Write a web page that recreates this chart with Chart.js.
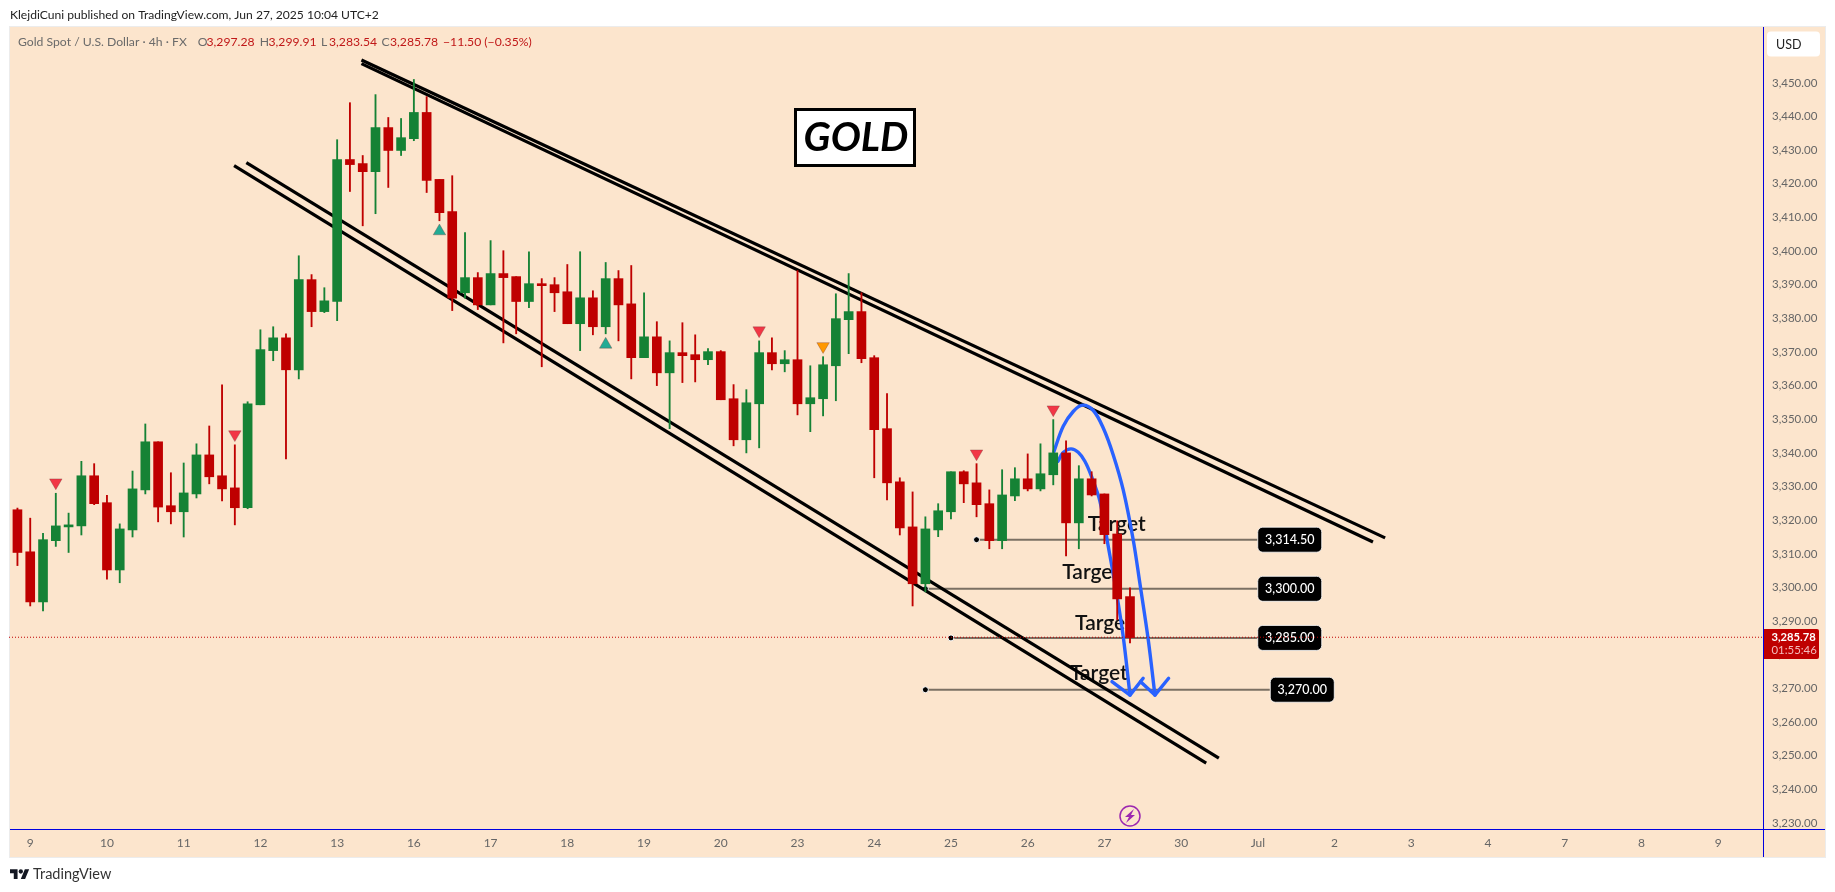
<!DOCTYPE html>
<html><head><meta charset="utf-8">
<style>html,body{margin:0;padding:0;background:#fff}canvas{display:block}</style>
<script src="https://cdn.jsdelivr.net/npm/chart.js@4"></script>
</head><body><canvas id="c" width="1835" height="892" style="width:1835px;height:892px"></canvas>
<script>
// ---------- data ----------
const openP=[3323.1,3310.6,3295.7,3313.9,3318,3318.3,3333.2,3325.2,3305.2,3317.1,
3329,3343.3,3324.3,3322.5,3327.8,3339.4,3333.2,3329.6,3323.7,3354.3,
3370.4,3374.2,3364.7,3391.5,3382,3385,3427.2,3426,3423.6,3436.7,
3429.9,3433.4,3441.2,3421.3,3411.7,3387.6,3392.1,3384,3393.3,3392.4,
3385,3390.3,3390,3387.9,3378.4,3386.1,3377.5,3391.8,3384.3,3368.3,
3374.5,3363.8,3369.8,3369.2,3367.7,3370.1,3356.1,3343.9,3354.6,3369.8,
3366.5,3367.7,3354.6,3356.1,3365.9,3379.6,3382,3368.3,3347.2,3331.4,
3318,3301.1,3317.1,3322.5,3334.4,3331.1,3324.9,3313.9,3327.2,3332.3,
3329.3,3333.5,3340,3319.2,3332.3,3327.8,3315.9,3297.28];
const highP=[3323.6,3320.6,3316.1,3328,3322.1,3337.5,3336.8,3327.4,3318.9,3334.6,
3348.6,3343.3,3334.1,3337,3342.7,3348,3360.2,3342.4,3355.2,3376.6,
3377.5,3375.4,3398.6,3393,3389.1,3433.1,3444.1,3428.4,3446.5,3439.7,
3439.4,3451,3445.9,3421.3,3422.4,3405.5,3393.6,3403.1,3400.1,3392.4,
3399.8,3391.8,3392.1,3396,3399.8,3388.2,3396.6,3394.2,3395.7,3387.6,
3379,3373.3,3378.7,3375.1,3371,3370.4,3360.3,3358.8,3373.3,3374.2,
3370.4,3394.2,3365.9,3368.6,3387.3,3393.3,3387.6,3368.9,3357.6,3332.6,
3328.4,3321,3324.9,3334.4,3334.7,3336.8,3329,3335,3335.6,3339.7,
3342.7,3349.9,3343.6,3336.2,3334.4,3327.8,3319.8,3299.91];
const lowP=[3306.5,3294.5,3293,3312.2,3310.4,3315.6,3324.6,3302.5,3301.4,3315,
3327.8,3319.5,3318.9,3315,3326.6,3330.8,3325.7,3318.6,3323.4,3354.3,
3367.4,3338.2,3362,3377.5,3381.7,3379.3,3417.7,3407.5,3411.1,3418.9,
3428.4,3432.8,3417.4,3409,3382.3,3386,3382.6,3384,3372.7,3375.4,
3383.2,3365.6,3382,3378.4,3370.4,3375.1,3375.4,3373.3,3362,3368.3,
3360,3347.2,3360.9,3361.1,3366.2,3355.8,3342.1,3340,3341.5,3364.7,
3364.1,3351.3,3346.3,3351,3355.5,3369.5,3366.8,3332.6,3326,3315.6,
3294.5,3298.7,3315.1,3320.4,3325.2,3321,3311.5,3311.5,3325.8,3328.7,
3328.7,3330.5,3309.4,3311.5,3327.2,3313,3290.4,3283.54];
const closeP=[3310.4,3295.7,3314.2,3318.3,3318.6,3333.2,3324.9,3305.2,3317.4,3329.3,
3343.3,3323.9,3322.5,3328.1,3339.4,3332.9,3329.3,3323.7,3354.6,3370.7,
3374.2,3364.7,3391.5,3382,3385.2,3427.2,3425.7,3423.6,3436.7,3429.9,
3433.7,3441.2,3421,3411.4,3386,3392.1,3384,3393.3,3392.1,3385,
3390.3,3389.7,3387.6,3378.4,3386.1,3377.5,3391.8,3384,3368.3,3374.5,
3363.8,3369.8,3368.9,3367.7,3370.1,3355.8,3343.9,3354.9,3369.8,3366.5,
3367.7,3354.6,3356.4,3366.2,3379.9,3382,3368,3346.9,3331.1,3317.7,
3301.1,3317.4,3322.8,3334.4,3330.8,3324.6,3313.9,3327.5,3332.3,3329.3,
3333.8,3340,3319.2,3332.3,3327.5,3315.7,3296.6,3285.1];
const dayLabels=['9','10','11','12','13','16','17','18','19','20','23','24','25','26','27','30','Jul','2','3','4','7','8','9'];
const dayTickBars=[1,7,13,19,25,31,37,43,49,55,61,67,73,79,85,91,97,103,109,115,121,127,133];
const priceTicks=[3230,3240,3250,3260,3270,3280,3290,3300,3310,3320,3330,3340,3350,3360,3370,3380,3390,3400,3410,3420,3430,3440,3450];
const lastPrice=3285.2;
// trade-signal markers [bar, price]
const sellMarkers=[[3,3331.2],[17,3345.5],[58,3376.4],[75,3339.8],[81,3352.9]];
const buyMarkers=[[33,3405.9],[46,3372.2]];
const warnMarkers=[[63,3371.7]];
// channel trend lines [bar, price]
const upperA=[[26.9,3456.8],[106.95,3314.75]];
const upperB=[[26.9,3455.7],[106.0,3313.5]];
const lowerA=[[16.94,3425.4],[92.96,3247.8]];
const lowerB=[[17.9,3426.3],[93.95,3249.3]];
// target levels: start bar, end bar, level as drawn
const targetLevels=[[75,96.95,3314.2],[71,96.95,3299.6],[73,96.95,3285],[71,97.93,3269.6]];
const targetNames=['3,314.50','3,300.00','3,285.00','3,270.00'];
// "Target" captions [bar at left edge, price at mid-height]
const targetCaptions=[[83.7,3318.8],[81.7,3304.5],[82.7,3289.5],[82.3,3274.5]];
// projected curves [bar, price]
const curveOuter=[[81.05,3340.4],[81.78,3347.9],[82.56,3352.3],[83.29,3354.2],[84.13,3352.6],[84.91,3347.4],[85.69,3339.4],[86.47,3329.0],[87.25,3314.2],[87.77,3301.3],[88.43,3284.4],[88.95,3268.0]];
const curveInner=[[81.36,3337.5],[81.78,3340.1],[82.38,3341.2],[82.95,3340.2],[83.47,3337.5],[83.99,3333.0],[84.65,3325.6],[85.30,3312.2],[85.95,3298.3],[86.47,3285.4],[87.0,3268.0]];
const arrowOuter=[[87.83,3272.0],[88.95,3268.0],[90.02,3273.0]];
const arrowInner=[[85.59,3272.0],[87.0,3268.0],[88.03,3273.0]];

// ---------- look ----------
const UP='#158235',DOWN='#bf0000',BG='#fce5cd',FONT='Lato, "Open Sans", sans-serif';
const bars=openP.map((_,i)=>i);
const col=bars.map(i=>closeP[i]>=openP[i]?UP:DOWN);
const pts=a=>a.map(p=>({x:p[0],y:p[1]}));
const blackLine=a=>({type:'line',data:pts(a),borderColor:'#000',borderWidth:3.2,pointRadius:0,order:6,tension:0});
const blueLine=(a,t)=>({type:'line',data:pts(a),borderColor:'#2962ff',borderWidth:3.4,pointRadius:0,order:5,tension:t,borderCapStyle:'round',borderJoinStyle:'round'});
const marker=(a,c,rot)=>({type:'scatter',data:pts(a),pointStyle:'triangle',rotation:rot,pointRadius:7.2,pointHoverRadius:7.2,backgroundColor:c,pointBorderColor:'rgba(120,60,60,.35)',pointBorderWidth:1,order:3});
const levelDs=targetLevels.map(l=>({type:'line',data:[{x:l[0],y:l[2]},{x:l[1],y:l[2]}],borderColor:'#7b7063',borderWidth:2,pointRadius:[3,0],pointBackgroundColor:'#000',pointBorderColor:'#fff',pointBorderWidth:1,order:7}));

const decor={id:'decor',
 beforeDraw(ch){const c=ch.ctx;c.save();c.fillStyle='#fff';c.fillRect(0,0,1835,892);
  c.fillStyle='#ececec';c.fillRect(9,26,1817,832);
  c.fillStyle=BG;c.fillRect(10,27,1815,830);c.restore();},
 beforeDatasetsDraw(ch){const c=ch.ctx,x=ch.scales.x,y=ch.scales.y;c.save();
  // Target captions
  c.fillStyle='#111';c.font='600 21px '+FONT;c.textBaseline='middle';c.textAlign='left';
  targetCaptions.forEach(t=>c.fillText('Target',x.getPixelForValue(t[0]),y.getPixelForValue(t[1])));
  // level price labels
  targetLevels.forEach((l,i)=>{const px=x.getPixelForValue(l[1]),py=y.getPixelForValue(l[2]);
   c.beginPath();c.roundRect(px+.5,py-12.5,64,25,5);c.fillStyle='#000';c.fill();c.strokeStyle='rgba(255,255,255,.8)';c.lineWidth=1;c.stroke();
   c.fillStyle='#fff';c.font='500 12.5px '+FONT;c.textAlign='center';c.textBaseline='middle';c.fillText(targetNames[i],px+32.5,py);});
  c.restore();},
 afterDraw(ch){const c=ch.ctx,a=ch.chartArea;c.save();
  // blue frame lines
  c.fillStyle='#0000e0';c.fillRect(a.right,27,1,830);c.fillRect(10,a.bottom,1815,1);
  // header
  c.textAlign='left';c.textBaseline='middle';
  c.fillStyle='#222';c.font='12.1px '+FONT;c.fillText('KlejdiCuni published on TradingView.com, Jun 27, 2025 10:04 UTC+2',10,15);
  const g='#6a6a6a',r='#c01818';
  [['Gold Spot / U.S. Dollar · 4h · FX',18,g],['O',197.7,g],['3,297.28',206.5,r],['H',259.8,g],['3,299.91',268.5,r],['L',321,g],['3,283.54',329,r],['C',381.6,g],['3,285.78',390,r],['−11.50 (−0.35%)',443,r]].forEach(t=>{c.fillStyle=t[2];c.font='12.2px '+FONT;c.fillText(t[0],t[1],42);});
  // GOLD box
  c.fillStyle='#000';c.fillRect(794,108,122,59);c.fillStyle='#fff';c.fillRect(797,111,116,53);
  c.fillStyle='#000';c.font='italic 700 40px '+FONT;c.textAlign='center';c.fillText('GOLD',856,138);
  // USD button
  c.beginPath();c.roundRect(1767,31.5,53,25,4);c.fillStyle='#fff';c.fill();
  c.fillStyle='#222';c.font='12.5px '+FONT;c.textAlign='left';c.fillText('USD',1776,44.5);
  // last price badge
  c.beginPath();c.roundRect(1764,629,55,30,[0,2,2,0]);c.fillStyle=DOWN;c.fill();
  c.fillStyle='#fff';c.font='700 11.2px '+FONT;c.fillText('3,285.78',1771.5,637.5);
  c.fillStyle='#f3bcbc';c.font='11.4px '+FONT;c.fillText('01:55:46',1771.5,650.5);
  // bolt icon
  const bx=ch.scales.x.getPixelForValue(87),by=816;
  c.beginPath();c.arc(bx,by,10,0,7);c.strokeStyle='#9c27b0';c.lineWidth=1.5;c.stroke();
  c.fillStyle='#9c27b0';c.beginPath();[[4,-7],[-5,1],[-1,1],[-4,7],[5,-1],[1,-1]].forEach((p,i)=>i?c.lineTo(bx+p[0],by+p[1]):c.moveTo(bx+p[0],by+p[1]));c.closePath();c.fill();
  // footer logo
  c.save();c.translate(10,867.2);c.scale(.54,.54);c.fillStyle='#131722';
  c.fill(new Path2D('M14 22H7V11H0V4h14v18zM28 22h-8l7.5-18h8L28 22z'));c.beginPath();c.arc(20,8,4,0,7);c.fill();c.restore();
  c.fillStyle='#333';c.font='14.5px '+FONT;c.fillText('TradingView',33,874.5);
  c.restore();}
};

new Chart(document.getElementById('c'),{
 plugins:[decor],
 data:{datasets:[
  {type:'line',data:[{x:-0.66,y:lastPrice},{x:136.5,y:lastPrice}],borderColor:DOWN,borderWidth:1,borderDash:[1,2],pointRadius:0,order:-1},
  {type:'bar',data:bars.map(i=>({x:i,y:[openP[i],closeP[i]]})),backgroundColor:col,barThickness:9,grouped:false,order:0},
  {type:'bar',data:bars.map(i=>({x:i,y:[lowP[i],highP[i]]})),backgroundColor:col,barThickness:1.2,grouped:false,order:1},
  marker(sellMarkers,'#f23645',180),marker(buyMarkers,'#22ab94',0),marker(warnMarkers,'#ff9800',180),
  blueLine(curveOuter,.35),blueLine(curveInner,.35),blueLine(arrowOuter,0),blueLine(arrowInner,0),
  blackLine(upperA),blackLine(upperB),blackLine(lowerA),blackLine(lowerB),
  ...levelDs
 ]},
 options:{responsive:false,animation:false,devicePixelRatio:1,
  layout:{padding:{left:9,top:27,right:10,bottom:35}},
  plugins:{legend:{display:false},tooltip:{enabled:false}},
  events:[],
  scales:{
   x:{type:'linear',min:-0.66,max:136.5,offset:false,
    grid:{display:false,drawTicks:false},border:{display:false},
    afterFit(s){s.height=28;},
    afterBuildTicks(s){s.ticks=dayTickBars.map(v=>({value:v}));},
    ticks:{autoSkip:false,maxRotation:0,padding:7,color:'#666',font:{family:FONT,size:12},
     callback(v){const i=dayTickBars.indexOf(v);return i<0?'':dayLabels[i];}}},
   y:{type:'linear',position:'right',min:3228.2,max:3466.6,
    grid:{display:false,drawTicks:false},border:{display:false},
    afterFit(s){s.width=62;},
    afterBuildTicks(s){s.ticks=priceTicks.map(v=>({value:v}));},
    ticks:{autoSkip:false,padding:9,color:'#666',font:{family:FONT,size:11.5},
     callback(v){return v.toLocaleString('en-US',{minimumFractionDigits:2,maximumFractionDigits:2});}}}
  }}
});
</script>
</body></html>
